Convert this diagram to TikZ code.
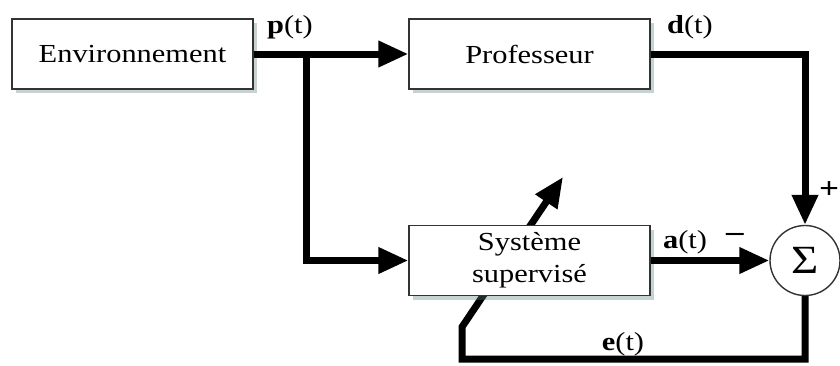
\documentclass[tikz,border=0pt]{standalone}
\usepackage{fontspec}
\setmainfont{Liberation Serif}[FakeStretch=1.17]
\usetikzlibrary{arrows.meta,shadows}
\pgfdeclarelayer{background}
\pgfsetlayers{background,main}
\begin{document}
\begin{tikzpicture}[x=1pt,y=-1pt,
  blockbox/.style={draw=black!80, line width=1.4pt, fill=white,
    minimum width=241pt, minimum height=70pt, inner sep=0pt,
    font=\fontsize{26}{32}\selectfont, align=center,
    drop shadow={shadow xshift=4pt, shadow yshift=-4pt, fill=gray!70!teal, opacity=0.35}},
  sumnode/.style={circle, draw=black!80, line width=1.4pt, fill=white,
    minimum size=70pt, inner sep=0pt, font=\fontsize{40}{42}\selectfont},
  sig/.style={line width=7pt, line join=miter,
    -{Triangle[length=30pt,width=25pt]}},
  lbl/.style={font=\fontsize{26}{30}\selectfont, inner sep=0pt},
  signlbl/.style={font=\fontsize{30}{32}\selectfont\bfseries, inner sep=0pt}
]
\useasboundingbox (0,0) rectangle (840,365);
\node[blockbox] (env) at (132.5,54) {Environnement};
\node[blockbox] (prof) at (529.5,54) {Professeur};
\node[blockbox] (sys) at (529.5,260.5) {Syst\`eme\\supervis\'e};
\node[sumnode] (sum) at (805,260.5) {Σ};

\coordinate (br) at (306,54);
\coordinate (brd) at (306,260.5);
\coordinate (pc) at (805,54);
\coordinate (bl) at (805,359);
\coordinate (bll) at (462,359);
\coordinate (blu) at (462,327);
\coordinate (tip) at (563,177);

\draw[sig] (env.east) -- (prof.west);
\draw[sig] (br) -- (brd) -- (sys.west);
\draw[sig] (prof.east) -- (pc) -- (sum.north);
\draw[sig] (sys.east) -- (sum.west);
\begin{pgfonlayer}{background}
\draw[sig] (sum.south) -- (bl) -- (bll) -- (blu) -- (tip);
\end{pgfonlayer}

\node[lbl] (lp) at (290,27) {\textbf{p}(t)};
\node[lbl] (ld) at (690,27) {\textbf{d}(t)};
\node[lbl] (la) at (685,242) {\textbf{a}(t)};
\node[signlbl] (lm) at (735,237) {\textendash};
\node[signlbl] (lpl) at (829,190) {+};
\node[lbl] (le) at (623,344) {\textbf{e}(t)};
\end{tikzpicture}
\end{document}
